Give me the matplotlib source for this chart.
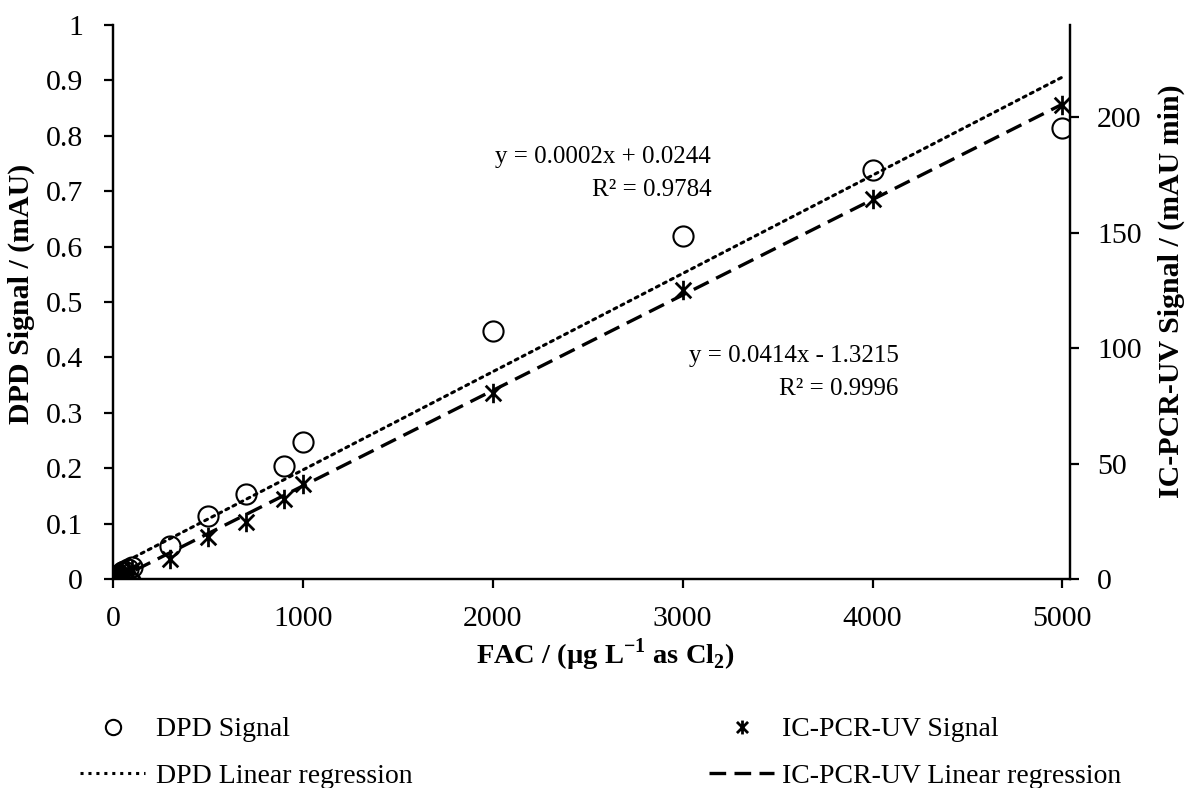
import numpy as np
import matplotlib
matplotlib.use("Agg")
import matplotlib.pyplot as plt
from matplotlib.path import Path
from matplotlib.lines import Line2D

plt.rcParams['font.family'] = ['Liberation Serif', 'DejaVu Serif']
plt.rcParams['mathtext.fontset'] = 'custom'
plt.rcParams['mathtext.rm'] = 'Liberation Serif'
plt.rcParams['mathtext.bf'] = 'Liberation Serif:bold'

# ---- data ----
fac = [0, 10, 20, 30, 50, 60, 80, 100, 300, 500, 700, 900, 1000, 2000, 3000, 4000, 5000]
dpd_signal = [0.0, 0.003, 0.005, 0.008, 0.012, 0.015, 0.018, 0.022,
              0.060, 0.114, 0.153, 0.204, 0.247, 0.448, 0.619, 0.738, 0.814]
ic_signal = [0.0, 0.3, 0.7, 1.1, 1.8, 2.3, 3.0, 4.0,
             8.7, 18.2, 24.7, 34.7, 41.2, 80.6, 125.2, 164.6, 205.4]
left_ticks = [0, 0.1, 0.2, 0.3, 0.4, 0.5, 0.6, 0.7, 0.8, 0.9, 1.0]
left_labels = ['0', '0.1', '0.2', '0.3', '0.4', '0.5', '0.6', '0.7', '0.8', '0.9', '1']
right_ticks = [0, 50, 100, 150, 200]
x_ticks = [0, 1000, 2000, 3000, 4000, 5000]
eq_dpd = "y = 0.0002x + 0.0244\nR² = 0.9784"
eq_ic = "y = 0.0414x - 1.3215\nR² = 0.9996"

# Excel-style star marker (x plus vertical bar)
star = Path([(-1, -1), (1, 1), (-1, 1), (1, -1), (0, -1.25), (0, 1.25)],
            [Path.MOVETO, Path.LINETO, Path.MOVETO, Path.LINETO, Path.MOVETO, Path.LINETO])

fig = plt.figure(figsize=(11.85, 7.88), dpi=100)
ax = fig.add_axes([113/1185, 1-579/788, (1070-113)/1185, (579-25)/788])
ax2 = ax.twinx()

FS = 21.5
FS_EQ = 18
FS_LEG = 20
x = np.array(fac, dtype=float)
# DPD
ax.plot(fac, dpd_signal, linestyle='none', marker='o', markersize=14.5,
        markerfacecolor='none', markeredgecolor='black', markeredgewidth=1.5, zorder=3)
p1 = np.polyfit(x, dpd_signal, 1)
xl = np.array([0, 5000.0])
ax.plot(xl, np.polyval(p1, xl), color='black', linestyle=(0, (1, 1.6)), linewidth=2.2,
        dash_capstyle='round')
# IC
ax2.plot(fac, ic_signal, linestyle='none', marker=star, markersize=14,
         markerfacecolor='none', markeredgecolor='black', markeredgewidth=2.0, zorder=3)
p2 = np.polyfit(x, ic_signal, 1)
ax2.plot(xl, np.polyval(p2, xl), color='black', linestyle=(0, (5, 2.5)), linewidth=2.4)

ax.set_xlim(0, 5040)
ax.set_ylim(0, 1)
ax2.set_ylim(0, 240)
ax.set_xticks(x_ticks)
ax.set_yticks(left_ticks)
ax.set_yticklabels(left_labels)
ax2.set_yticks(right_ticks)
for a in (ax, ax2):
    a.spines['top'].set_visible(False)
    for s in a.spines.values():
        s.set_linewidth(1.6)
    a.tick_params(direction='out', length=6.5, width=1.6, labelsize=FS)
ax.tick_params(axis='y', pad=15)
ax.tick_params(axis='x', pad=13)
ax2.tick_params(axis='y', pad=13)

ax.set_xlabel(r'FAC / (µg L$^{\mathbf{-1}}$ as Cl$_{\mathbf{2}}$)', fontsize=20.5, fontweight='bold')
ax.xaxis.set_label_coords(0.514, -0.103)
ax.set_ylabel('DPD Signal / (mAU)', fontsize=FS, fontweight='bold')
ax.yaxis.set_label_coords(-0.0815, 0.515)
ax2.set_ylabel('IC-PCR-UV Signal / (mAU min)', fontsize=FS, fontweight='bold')
ax2.yaxis.set_label_coords(1.092, 0.52)

ax.text(0.625, 0.732, eq_dpd, transform=ax.transAxes, ha='right', va='center',
        fontsize=FS_EQ, linespacing=1.65, multialignment='right')
ax.text(0.821, 0.373, eq_ic, transform=ax.transAxes, ha='right', va='center',
        fontsize=FS_EQ, linespacing=1.65, multialignment='right')

h1 = Line2D([], [], linestyle='none', marker='o', markersize=11, markerfacecolor='none',
            markeredgecolor='black', markeredgewidth=1.5)
h2 = Line2D([], [], color='black', linestyle=(0, (1, 1.6)), linewidth=2.2)
h3 = Line2D([], [], linestyle='none', marker=star, markersize=10, markerfacecolor='none',
            markeredgecolor='black', markeredgewidth=2.0)
h4 = Line2D([], [], color='black', linestyle=(0, (5, 2.5)), linewidth=2.4)
common = dict(loc='upper left', frameon=False, fontsize=FS_LEG, handlelength=2.35,
              labelspacing=0.75, borderpad=0, borderaxespad=0)
leg1 = fig.legend([h1, h2], ['DPD Signal', 'DPD Linear regression'],
                  bbox_to_anchor=(80/1185, 1-717/788), handletextpad=0.4, **common)
leg2 = fig.legend([h3, h4], ['IC-PCR-UV Signal', 'IC-PCR-UV Linear regression'],
                  bbox_to_anchor=(709/1185, 1-717/788), handletextpad=0.28, **common)

fig.savefig('out.png', dpi=100)
